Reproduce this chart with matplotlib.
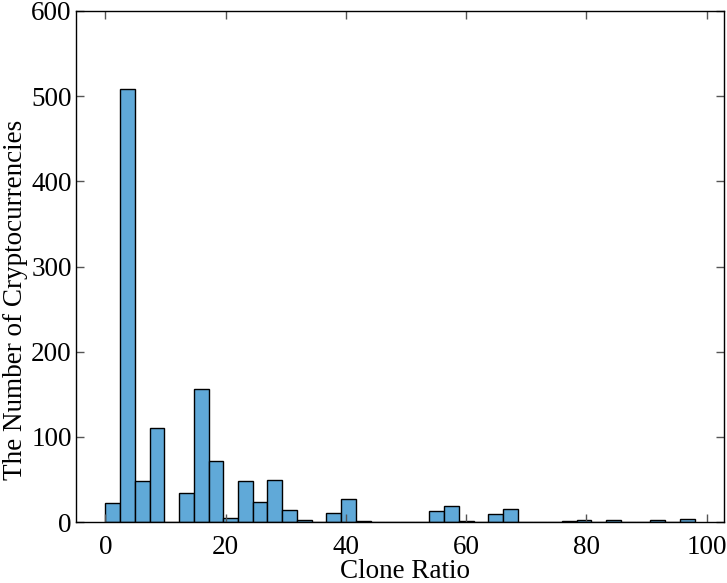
import numpy as np
import matplotlib
matplotlib.use('Agg')
import matplotlib.pyplot as plt

# histogram of clone ratios, 40 bins of width 2.45 over [0, 98]
bin_width = 2.45
n_bins = 40
counts = [22, 509, 48, 110, 0, 34, 156, 72, 5, 48,
          24, 49, 14, 2, 0, 10, 27, 1, 0, 0,
          0, 0, 13, 19, 1, 0, 9, 15, 0, 0,
          0, 1, 2, 0, 2, 0, 0, 2, 0, 3]

plt.rcParams['font.family'] = ['Liberation Serif', 'DejaVu Serif']
plt.rcParams['mathtext.fontset'] = 'stix'

edges = np.arange(n_bins + 1) * bin_width
centers = (edges[:-1] + edges[1:]) / 2

fig = plt.figure(figsize=(7.27, 5.83), dpi=100)
ax = fig.add_axes([76 / 727, 1 - 522 / 583, 648 / 727, 511 / 583])

ax.hist(centers, bins=edges, weights=counts,
        color='#60a9d8', edgecolor='black', linewidth=1.0)

ax.set_xlim(-4.9, 102.9)
ax.set_ylim(0, 600)
ax.set_xticks([0, 20, 40, 60, 80, 100])
ax.set_yticks([0, 100, 200, 300, 400, 500, 600])

ax.tick_params(direction='in', top=True, right=True, length=6,
               width=1, color='#555555', labelsize=19.5)
ax.tick_params(axis='x', pad=9)
ax.tick_params(axis='y', pad=3)
for s in ax.spines.values():
    s.set_linewidth(1.0)

ax.set_xlabel('Clone Ratio', fontsize=19.5, labelpad=-0.5)
ax.set_ylabel('The Number of Cryptocurrencies', fontsize=19.5, labelpad=2)
# labels sit a bit off-centre in the original
ax.xaxis.label.set_x(0.507)
ax.yaxis.label.set_y(0.434)

fig.savefig('out.png', dpi=100)
